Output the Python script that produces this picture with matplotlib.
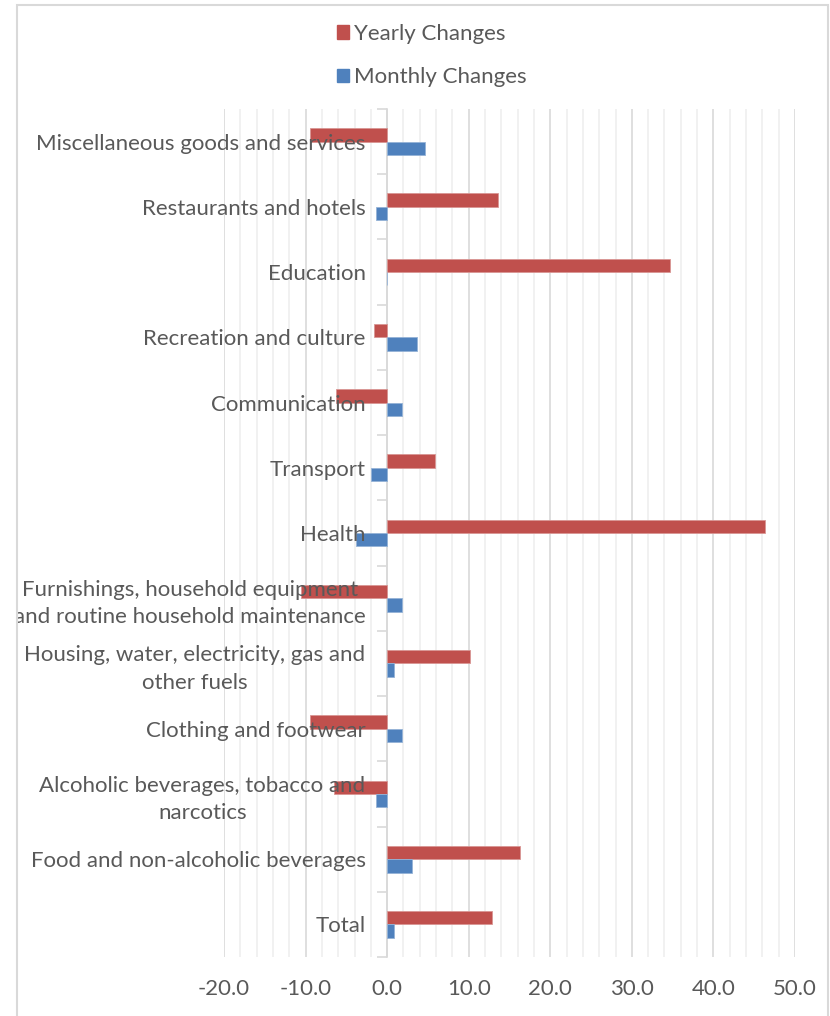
import matplotlib
matplotlib.use("Agg")
import matplotlib.pyplot as plt
from matplotlib.patches import Rectangle, Patch
from matplotlib.transforms import Bbox
import numpy as np

plt.rcParams['font.family'] = ['Lato', 'DejaVu Sans']

categories = ["Total",
              "Food and non-alcoholic beverages",
              "Alcoholic beverages, tobacco and\nnarcotics",
              "Clothing and footwear",
              "Housing, water, electricity, gas and\nother fuels",
              "Furnishings, household equipment\nand routine household maintenance",
              "Health",
              "Transport",
              "Communication",
              "Recreation and culture",
              "Education",
              "Restaurants and hotels",
              "Miscellaneous goods and services"]
yearly = [12.9, 16.3, -6.5, -9.5, 10.2, -10.6, 46.3, 5.9, -6.3, -1.6, 34.7, 13.6, -9.5]
monthly = [0.8, 3.1, -1.35, 1.8, 0.8, 1.8, -3.8, -2.0, 1.8, 3.7, 0.0, -1.4, 4.7]

red = "#C0504D"
blue = "#4F81BD"
txt = "#595959"

fig = plt.figure(figsize=(8.3, 10.16), dpi=100)
ax = fig.add_axes([224/830, 59/1016, 571/830, 848/1016])
ax.set_axisbelow(False)  # tick labels drawn above the bars

for s in ['top', 'right', 'bottom']:
    ax.spines[s].set_visible(False)
ax.spines['left'].set_position(('data', 0))
ax.spines['left'].set_color("#D9D9D9")
ax.spines['left'].set_linewidth(1.2)
ax.spines['left'].set_zorder(1)

y = np.arange(len(categories))
h = 0.205
ax.barh(y + h/2, yearly, height=h, color=red, edgecolor="#D99694", linewidth=0.6, zorder=2)
ax.barh(y - h/2, monthly, height=h, color=blue, edgecolor="#95B3D7", linewidth=0.6, zorder=2)

ax.set_xlim(-20, 50)
ax.set_ylim(-0.5, len(categories) - 0.5)

major = np.arange(-20, 51, 10)
minor = np.arange(-20, 51, 2)
for v in minor:
    if v % 10:
        ax.axvline(v, color="#EFEFEF", linewidth=1.2, zorder=0.5)
for v in major:
    ax.axvline(v, color="#D9D9D9", linewidth=1.2, zorder=0.6)

ax.set_xticks(major)
ax.set_xticklabels([f"{v:.1f}" for v in major], fontsize=16, color=txt)
ax.tick_params(axis='x', which='both', length=0, pad=16)

ax.set_yticks(np.arange(-0.5, len(categories), 1), minor=True)
ax.set_yticks(y)
ax.tick_params(axis='y', which='major', length=0, pad=15.5)
ax.tick_params(axis='y', which='minor', length=7, color="#D9D9D9", width=1.2)
ax.set_yticklabels(categories, fontsize=16, color=txt, multialignment='center',
                   linespacing=1.45)

# clip labels at the chart border like the original
clip = Bbox.from_extents(18, 0, 830, 1016)
for lab in ax.get_yticklabels():
    lab.set_clip_on(True)
    lab.set_clip_box(clip)

fig.patches.append(Rectangle((17/830, -0.05), 811/830, 1.05 - 5/1016, transform=fig.transFigure,
                             fill=False, edgecolor="#D9D9D9", linewidth=1.5))

handles = [Patch(color=red), Patch(color=blue)]
fig.legend(handles, ["Yearly Changes", "Monthly Changes"], loc='upper left',
           bbox_to_anchor=(337/830, 1 - 24/1016), frameon=False, fontsize=16,
           labelcolor=txt, handlelength=0.55, handleheight=0.55, handletextpad=0.2,
           labelspacing=1.05, borderpad=0, borderaxespad=0)

fig.savefig("out.png", dpi=100)
